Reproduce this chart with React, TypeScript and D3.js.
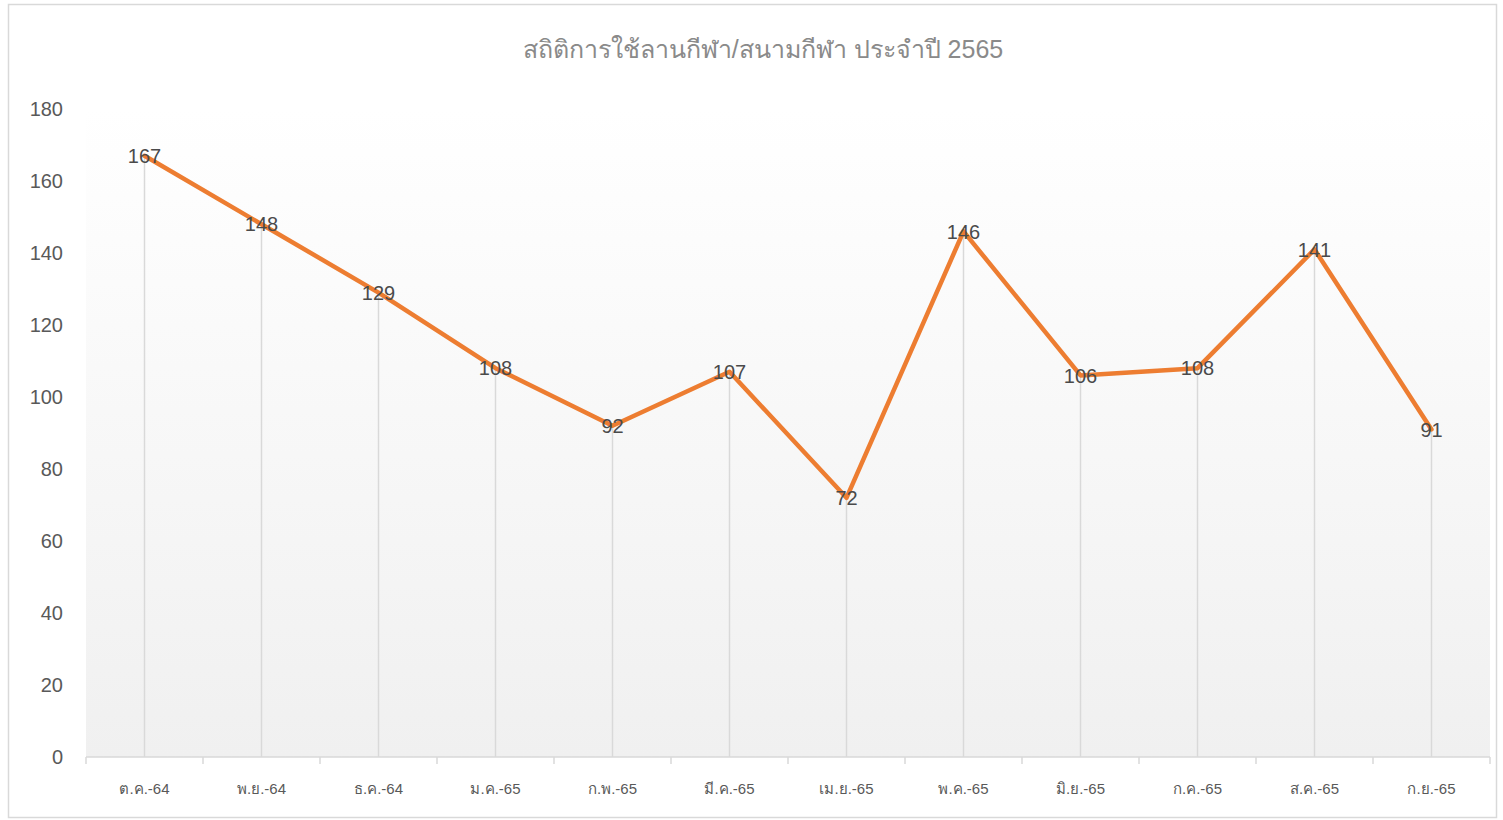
import * as d3 from 'd3';

const months = ['ต.ค.-64', 'พ.ย.-64', 'ธ.ค.-64', 'ม.ค.-65', 'ก.พ.-65', 'มี.ค.-65', 'เม.ย.-65', 'พ.ค.-65', 'มิ.ย.-65', 'ก.ค.-65', 'ส.ค.-65', 'ก.ย.-65'];
const usage = [167, 148, 129, 108, 92, 107, 72, 146, 106, 108, 141, 91];
const yTicks = [0, 20, 40, 60, 80, 100, 120, 140, 160, 180];
const title = 'สถิติการใช้ลานกีฬา/สนามกีฬา ประจำปี 2565';

const W = 1503, H = 820;
const plot = {left: 86, right: 1490, top: 109, bottom: 757};
const font = '"Liberation Sans", "Open Sans", "Noto Sans", sans-serif';

function App(){
	const x = d3.scaleBand<string>().domain(months).range([plot.left, plot.right])
		, y = d3.scaleLinear().domain([0, 180]).range([plot.bottom, plot.top])
		, cx = (i: number)=> (x(months[i]) as number) + x.bandwidth() /2
		, line = d3.line<number>().x((d, i)=> cx(i)).y((d)=> y(d))
		, bounds = months.map((m)=> x(m) as number).concat([plot.right])
		;

	return (<svg width={W} height={H} style={{position: 'absolute', left: 0, top: 0}}>
		<defs>
			<linearGradient id="bg" x1="0" y1="0" x2="0" y2="1">
				<stop offset="0" stopColor="#ffffff"/>
				<stop offset="1" stopColor="#f0f0f0"/>
			</linearGradient>
		</defs>
		<rect x={0} y={0} width={W} height={H} fill="#fff"/>
		<rect x={8.5} y={4.5} width={1488} height={813} fill="#fff" stroke="#d9d9d9" strokeWidth={1.5}/>
		<rect x={plot.left} y={plot.top} width={plot.right - plot.left} height={plot.bottom - plot.top} fill="url(#bg)"/>

		<text x={763} y={58} textAnchor="middle" fontFamily={font} fontSize={25} fill="#8a8a8a">{title}</text>

		{/* drop lines */}
		{usage.map((v, i)=>(<line key={'d' + i} x1={cx(i)} x2={cx(i)} y1={y(v)} y2={plot.bottom} stroke="#d9d9d9" strokeWidth={1.5}/>))}

		{/* x axis */}
		<line x1={plot.left} x2={plot.right} y1={plot.bottom} y2={plot.bottom} stroke="#d9d9d9" strokeWidth={1.5}/>
		{bounds.map((b, i)=>(<line key={'t' + i} x1={b} x2={b} y1={plot.bottom} y2={plot.bottom + 7} stroke="#d9d9d9" strokeWidth={1.5}/>))}
		{months.map((m, i)=>(<text key={'m' + i} x={cx(i)} y={794} textAnchor="middle" fontFamily={font} fontSize={15} fill="#595959">{m}</text>))}

		{/* y axis labels */}
		{yTicks.map((t)=>(<text key={'y' + t} x={63} y={y(t)} dy="0.36em" textAnchor="end" fontFamily={font} fontSize={20} fill="#595959">{t}</text>))}

		<path d={line(usage) as string} fill="none" stroke="#ed7d31" strokeWidth={4.5} strokeLinejoin="round" strokeLinecap="round"/>

		{usage.map((v, i)=>(<text key={'l' + i} x={cx(i)} y={y(v)} dy="0.36em" textAnchor="middle" fontFamily={font} fontSize={20} fill="#4a4a4a">{v}</text>))}
	</svg>);
}

export default App;
